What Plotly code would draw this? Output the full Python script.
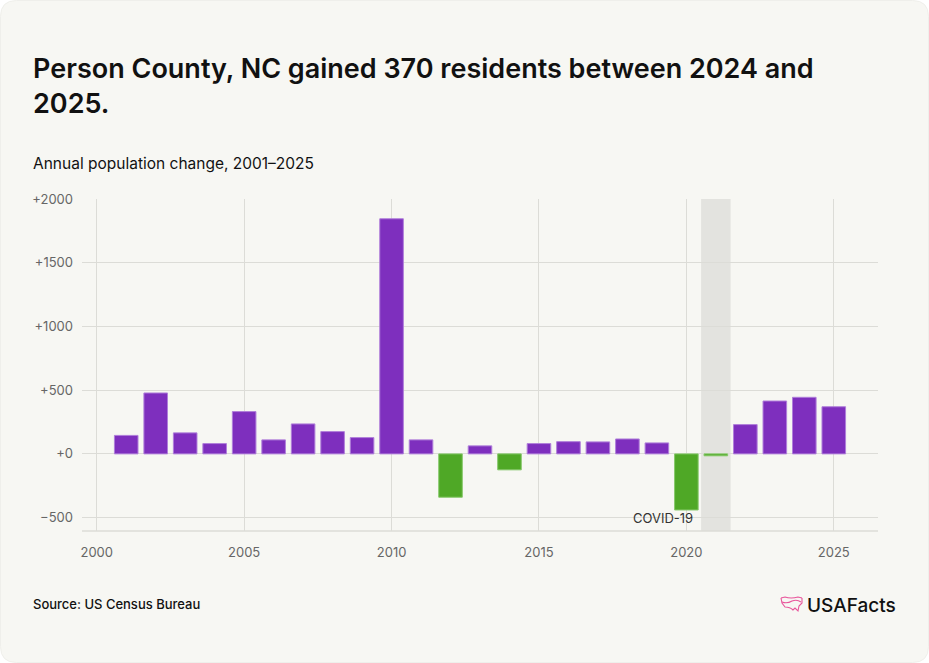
import plotly.graph_objects as go

years = list(range(2001, 2026))
changes = [145, 478, 165, 81, 332, 110, 235, 175, 128, 1845, 110, -340, 63, -125,
           81, 96, 94, 117, 86, -440, -15, 230, 415, 444, 370]
y_ticks = [-500, 0, 500, 1000, 1500, 2000]
y_tick_labels = ["\u2212500", "+0", "+500", "+1000", "+1500", "+2000"]
x_ticks = [2000, 2005, 2010, 2015, 2020, 2025]

W, H = 929, 663
ML, MR, MT, MB = 82, 51, 199, 132
PW, PH = W - ML - MR, H - MT - MB

def px(x):
    return (x - ML) / PW

def py(y):
    return 1 - (y - MT) / PH

PURPLE = "#7E2FBE"
GREEN = "#4FA826"
colors = [PURPLE if v >= 0 else GREEN for v in changes]
lines = ["#B07FDA" if v >= 0 else "#86C86A" for v in changes]

fig = go.Figure()
fig.add_trace(go.Bar(x=years, y=changes, marker=dict(color=colors, line=dict(color=lines, width=1)),
                     width=0.8, hoverinfo="x+y"))

shapes = []
# card background with rounded corners
r = 16
x0, y0, x1, y1 = 0.5, 0.5, W - 0.5, H - 0.5
path = (f"M {px(x0 + r)} {py(y0)} L {px(x1 - r)} {py(y0)} Q {px(x1)} {py(y0)} {px(x1)} {py(y0 + r)} "
        f"L {px(x1)} {py(y1 - r)} Q {px(x1)} {py(y1)} {px(x1 - r)} {py(y1)} "
        f"L {px(x0 + r)} {py(y1)} Q {px(x0)} {py(y1)} {px(x0)} {py(y1 - r)} "
        f"L {px(x0)} {py(y0 + r)} Q {px(x0)} {py(y0)} {px(x0 + r)} {py(y0)} Z")
shapes.append(dict(type="path", xref="paper", yref="paper", path=path,
                   fillcolor="#F7F7F3", line=dict(color="#EFEFEB", width=1), layer="below"))
# COVID shading
shapes.append(dict(type="rect", xref="x", yref="paper", x0=2020.5, x1=2021.5, y0=0, y1=1,
                   fillcolor="#E3E3DF", line=dict(width=0), layer="below"))
# bottom axis line
shapes.append(dict(type="line", xref="paper", yref="paper", x0=0, x1=1, y0=0, y1=0,
                   line=dict(color="#DCDCD7", width=1.5)))

# logo icon (stylised US map outline)
lx, ly = 781, 597
icon = [
    f"M {px(lx)} {py(ly+1)} L {px(lx+4)} {py(ly)} Q {px(lx+10)} {py(ly+2)} {px(lx+17)} {py(ly)} L {px(lx+21)} {py(ly+1)}",
    f"M {px(lx)} {py(ly+1)} L {px(lx+1)} {py(ly+6)} L {px(lx+4)} {py(ly+10)} Q {px(lx+9)} {py(ly+10)} {px(lx+12)} {py(ly+13)} L {px(lx+14)} {py(ly+11)} L {px(lx+17)} {py(ly+14)} L {px(lx+18)} {py(ly+9)} L {px(lx+21)} {py(ly+6)} L {px(lx+21)} {py(ly+1)}",
    f"M {px(lx+1)} {py(ly+5)} Q {px(lx+6)} {py(ly+7)} {px(lx+11)} {py(ly+4)} Q {px(lx+16)} {py(ly+2)} {px(lx+20)} {py(ly+5)}",
]
for p in icon:
    shapes.append(dict(type="path", xref="paper", yref="paper", path=p,
                       line=dict(color="#E8559B", width=1.1)))

annotations = [
    dict(text="Person County, NC gained 370 residents between 2024 and<br>2025.",
         xref="paper", yref="paper", x=px(31), y=py(50), xanchor="left", yanchor="top",
         align="left", showarrow=False,
         font=dict(family="Inter", size=27, color="#111111", weight=600)),
    dict(text="Annual population change, 2001\u20132025", xref="paper", yref="paper",
         x=px(31), y=py(163), xanchor="left", yanchor="middle", showarrow=False,
         font=dict(family="Inter", size=15.5, color="#111111")),
    dict(text="COVID-19", xref="x", yref="paper", x=2020.3, y=py(518), xanchor="right",
         yanchor="middle", showarrow=False, font=dict(family="Inter", size=13, color="#333333")),
    dict(text="Source: US Census Bureau", xref="paper", yref="paper", x=px(31), y=py(604),
         xanchor="left", yanchor="middle", showarrow=False,
         font=dict(family="Inter", size=13, color="#111111", weight=500)),
    dict(text="USAFacts", xref="paper", yref="paper", x=px(898), y=py(605), xanchor="right",
         yanchor="middle", showarrow=False,
         font=dict(family="Inter", size=19, color="#111111", weight=500)),
]

fig.update_layout(
    width=W, height=H,
    margin=dict(l=ML, r=MR, t=MT, b=MB),
    paper_bgcolor="#FFFFFF", plot_bgcolor="rgba(0,0,0,0)",
    showlegend=False, shapes=shapes, annotations=annotations,
    font=dict(family="Inter", color="#666666"),
    bargap=0.2,
)
fig.update_xaxes(range=[1999.5, 2026.5], tickvals=x_ticks, showgrid=True, gridcolor="#DCDCD7",
                 gridwidth=1, zeroline=False, showline=False, ticks="",
                 tickfont=dict(size=13, color="#666666"), ticklabelstandoff=12)
fig.update_yaxes(range=[-605, 2000], tickvals=y_ticks, ticktext=y_tick_labels, showgrid=True,
                 gridcolor="#DCDCD7", gridwidth=1, zeroline=True, zerolinecolor="#DCDCD7",
                 zerolinewidth=1, showline=False, ticks="",
                 tickfont=dict(size=13, color="#666666"), ticklabelstandoff=8)

fig.write_html("out.html")
